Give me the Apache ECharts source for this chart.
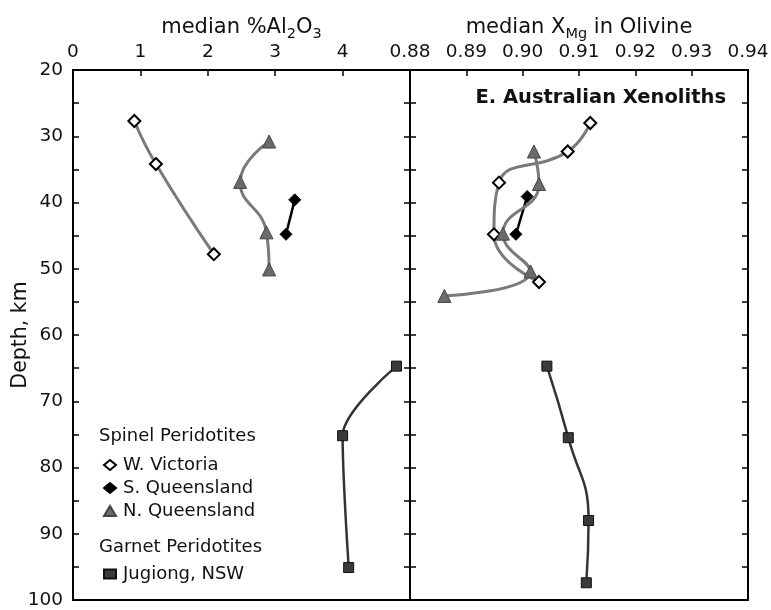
<!DOCTYPE html>
<html>
<head>
<meta charset="utf-8">
<script src="https://cdn.jsdelivr.net/npm/echarts@6/dist/echarts.min.js"></script>
<style>html,body{margin:0;padding:0;background:#fff}#c{width:771px;height:610px}</style>
</head>
<body>
<div id="c"></div>
<script>
// ---- Data ----
// Left panel: median %Al2O3 vs depth (km)
const wvAl = [0.91, 1.23, 2.09];
const wvAlDepth = [27.7, 34.2, 47.8];
const sqAl = [3.29, 3.16];
const sqAlDepth = [39.6, 44.8];
const nqAl = [2.91, 2.48, 2.87, 2.91];
const nqAlDepth = [30.8, 36.9, 44.5, 50.1];
const jgAl = [4.80, 4.00, 4.09];
const jgAlDepth = [64.7, 75.2, 95.1];
// Right panel: median XMg in olivine vs depth (km)
const wvMg = [0.912, 0.908, 0.8958, 0.8949, 0.9029];
const wvMgDepth = [28.0, 32.3, 37.0, 44.8, 52.0];
const sqMg = [0.9008, 0.8988];
const sqMgDepth = [39.1, 44.8];
const nqMg = [0.9020, 0.9029, 0.8965, 0.9014, 0.8861];
const nqMgDepth = [32.3, 37.2, 44.7, 50.4, 54.1];
const jgMg = [0.9043, 0.9081, 0.9117, 0.9113];
const jgMgDepth = [64.7, 75.5, 88.0, 97.4];
// Axis ticks
const alTicks = [0, 1, 2, 3, 4];
const mgTicks = [0.88, 0.89, 0.90, 0.91, 0.92, 0.93, 0.94];
const depthTicks = [20, 30, 40, 50, 60, 70, 80, 90, 100];
// Names
const seriesNames = ['W. Victoria', 'S. Queensland', 'N. Queensland', 'Jugiong, NSW'];
const groupTitles = ['Spinel Peridotites', 'Garnet Peridotites'];
const chartTitle = 'E. Australian Xenoliths';

const zip = (xs, ys) => xs.map((x, i) => [x, ys[i]]);
const FONT = 'DejaVu Sans';
const TXT = '#111';

const chart = echarts.init(document.getElementById('c'), null, {renderer: 'canvas'});

const gridBox = {top: 70, height: 530, show: true, borderColor: '#000', borderWidth: 2,
  backgroundColor: 'transparent', containLabel: false, outerBoundsMode: 'none'};

const tickInside = {show: true, inside: true, length: 6, lineStyle: {color: '#000', width: 1.5}};

function yAx(grid, pos, labels, name) {
  return {
    type: 'value', gridIndex: grid, position: pos, inverse: true,
    min: 20, max: 100, interval: 5,
    axisLine: {show: true, onZero: false, lineStyle: {color: '#000', width: 2}},
    axisTick: tickInside,
    splitLine: {show: false},
    axisLabel: labels ? {show: true, margin: 10, fontSize: 18.5, fontFamily: FONT, color: TXT,
      formatter: v => depthTicks.indexOf(v) >= 0 ? String(v) : ''} : {show: false},
    name: name || '',
    nameLocation: 'middle', nameGap: 52, nameRotate: 90, nameMoveOverlap: false,
    nameTextStyle: {fontSize: 20.5, fontFamily: FONT, color: TXT, verticalAlign: 'middle'}
  };
}

const richName = {
  n: {fontSize: 21, fontFamily: FONT, color: TXT},
  s: {fontSize: 14.5, fontFamily: FONT, color: TXT, padding: [14, 0, 0, 0]}
};

function lineSeries(name, data, xi, yi, opt) {
  return Object.assign({
    type: 'line', name: name, data: data, xAxisIndex: xi, yAxisIndex: yi,
    smooth: 0.5, symbolSize: 11, z: 3
  }, opt);
}

const wvStyle = {symbol: 'diamond', symbolSize: 12,
  itemStyle: {color: '#fff', borderColor: '#000', borderWidth: 2},
  lineStyle: {color: '#7a7a7a', width: 3}};
const sqStyle = {symbol: 'diamond', symbolSize: 12,
  itemStyle: {color: '#000', borderColor: '#000', borderWidth: 1},
  lineStyle: {color: '#000', width: 2.5}};
const nqStyle = {symbol: 'triangle', symbolSize: 13,
  itemStyle: {color: '#6b6b6b', borderColor: '#444', borderWidth: 1},
  lineStyle: {color: '#7a7a7a', width: 3}};
const jgStyle = {symbol: 'rect', symbolSize: 10,
  itemStyle: {color: '#3a3a3a', borderColor: '#111', borderWidth: 1},
  lineStyle: {color: '#333', width: 2.5}};

const option = {
  animation: false,
  backgroundColor: '#fff',
  textStyle: {fontFamily: FONT},
  title: {
    text: chartTitle, right: 40, top: 83,
    textStyle: {fontFamily: FONT, fontWeight: 'bold', fontSize: 19.5, color: TXT}
  },
  grid: [
    Object.assign({left: 73, width: 337}, gridBox),
    Object.assign({left: 410, width: 338}, gridBox)
  ],
  xAxis: [
    {
      type: 'value', gridIndex: 0, position: 'top', min: 0, max: 5, interval: 1,
      axisLine: {show: true, onZero: false, lineStyle: {color: '#000', width: 2}},
      axisTick: tickInside, splitLine: {show: false},
      axisLabel: {margin: 8, fontSize: 18.5, fontFamily: FONT, color: TXT,
        formatter: v => alTicks.indexOf(v) >= 0 ? String(v) : ''},
      name: '{n|median %Al}{s|2}{n|O}{s|3}',
      nameLocation: 'middle', nameGap: 28, nameMoveOverlap: false,
      nameTextStyle: {rich: richName}
    },
    {
      type: 'value', gridIndex: 1, position: 'top', min: 0.88, max: 0.94, interval: 0.01,
      axisLine: {show: true, onZero: false, lineStyle: {color: '#000', width: 2}},
      axisTick: tickInside, splitLine: {show: false},
      axisLabel: {margin: 8, fontSize: 18.5, fontFamily: FONT, color: TXT, showMinLabel: true, showMaxLabel: true,
        formatter: v => {
          const t = mgTicks.find(m => Math.abs(m - v) < 1e-6);
          return t !== undefined ? t.toFixed(2) : '';
        }},
      name: '{n|median X}{s|Mg}{n| in Olivine}',
      nameLocation: 'middle', nameGap: 28, nameMoveOverlap: false,
      nameTextStyle: {rich: richName}
    }
  ],
  yAxis: [
    yAx(0, 'left', true, 'Depth, km'),
    yAx(0, 'right', false),
    yAx(1, 'left', false),
    yAx(1, 'right', false)
  ],
  legend: [
    {
      orient: 'vertical', left: 98, top: 451, itemWidth: 12, itemHeight: 10, itemGap: 5,
      textStyle: {fontSize: 18, fontFamily: FONT, color: TXT, padding: [0, 0, 0, 2]},
      data: [
        {name: seriesNames[0], icon: 'diamond'},
        {name: seriesNames[1], icon: 'diamond'},
        {name: seriesNames[2], icon: 'triangle'}
      ],
      selectedMode: false
    },
    {
      orient: 'vertical', left: 98, top: 560, itemWidth: 12, itemHeight: 9, itemGap: 6,
      textStyle: {fontSize: 18, fontFamily: FONT, color: TXT, padding: [0, 0, 0, 2]},
      data: [{name: seriesNames[3], icon: 'rect'}],
      selectedMode: false
    }
  ],
  graphic: [
    {type: 'text', left: 99, top: 427, style: {text: groupTitles[0], font: '18px "DejaVu Sans"', fill: TXT}},
    {type: 'text', left: 99, top: 538, style: {text: groupTitles[1], font: '18px "DejaVu Sans"', fill: TXT}}
  ],
  series: [
    lineSeries(seriesNames[0], zip(wvAl, wvAlDepth), 0, 0, wvStyle),
    lineSeries(seriesNames[1], zip(sqAl, sqAlDepth), 0, 0, sqStyle),
    lineSeries(seriesNames[2], zip(nqAl, nqAlDepth), 0, 0, nqStyle),
    lineSeries(seriesNames[3], zip(jgAl, jgAlDepth), 0, 0, Object.assign({smooth: 0.3}, jgStyle)),
    lineSeries(seriesNames[0], zip(wvMg, wvMgDepth), 1, 2, wvStyle),
    lineSeries(seriesNames[1], zip(sqMg, sqMgDepth), 1, 2, sqStyle),
    lineSeries(seriesNames[2], zip(nqMg, nqMgDepth), 1, 2, nqStyle),
    lineSeries(seriesNames[3], zip(jgMg, jgMgDepth), 1, 2, jgStyle)
  ]
};
chart.setOption(option);
</script>
</body>
</html>
